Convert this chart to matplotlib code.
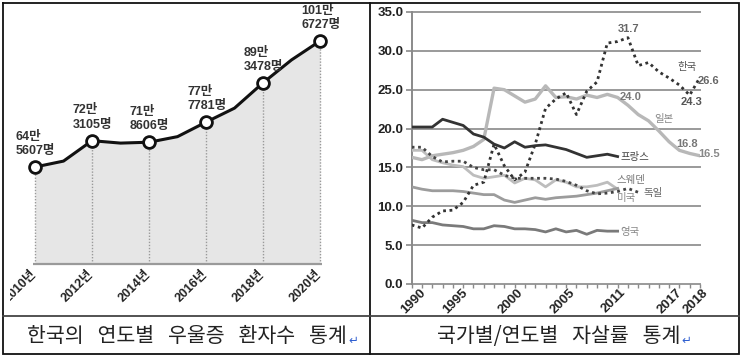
import matplotlib
matplotlib.use('Agg')
import matplotlib.pyplot as plt
from matplotlib.transforms import ScaledTranslation

W, H, DPI = 743, 358, 100

# ---------------- left panel data: depression patients in Korea ----------------
dep_years = [2010, 2011, 2012, 2013, 2014, 2015, 2016, 2017, 2018, 2019, 2020]
dep_patients = [645607, 663000, 723105, 716000, 718606, 735000, 777781, 819000, 893478, 961000, 1016727]
dep_marked_years = [2010, 2012, 2014, 2016, 2018, 2020]
dep_tick_labels = ['2010년', '2012년', '2014년', '2016년', '2018년', '2020년']
left_caption = '한국의   연도별   우울증   환자수   통계'

# ---------------- right panel data: suicide rate by country ----------------
sui_years = [1990, 1991, 1992, 1993, 1994, 1995, 1996, 1997, 1998, 1999,
             2000, 2001, 2002, 2003, 2004, 2005, 2006, 2007, 2008, 2009,
             2010, 2011, 2012, 2013, 2014, 2015, 2016, 2017, 2018]
korea = [7.6, 7.2, 8.6, 9.4, 9.5, 10.5, 12.7, 13.1, 18.0, 15.2,
         13.4, 14.4, 18.0, 22.6, 23.8, 24.6, 21.8, 24.8, 26.0, 31.0,
         31.2, 31.7, 28.1, 28.5, 27.3, 26.5, 25.6, 24.3, 26.6]
japan = [16.3, 16.0, 16.5, 16.7, 16.9, 17.2, 17.7, 18.6, 25.2, 25.0,
         24.2, 23.4, 23.8, 25.5, 24.0, 24.1, 23.8, 24.3, 24.0, 24.4,
         24.0, 23.0, 21.8, 21.0, 19.7, 18.3, 17.2, 16.8, 16.5]
france = [20.2, 20.2, 20.2, 21.2, 20.8, 20.4, 19.3, 18.9, 18.0, 17.5,
          18.3, 17.6, 17.8, 17.9, 17.6, 17.3, 16.8, 16.3, 16.5, 16.7, 16.4]
sweden = [17.2, 17.2, 16.0, 15.6, 15.3, 15.1, 14.0, 13.6, 13.8, 14.0,
          13.0, 13.6, 13.4, 12.5, 13.4, 13.1, 12.5, 12.5, 12.7, 13.1, 12.2]
usa = [12.5, 12.2, 12.0, 12.0, 12.0, 11.9, 11.7, 11.5, 11.5, 10.8,
       10.5, 10.8, 11.1, 10.9, 11.1, 11.2, 11.3, 11.5, 11.7, 12.0, 12.3]
germany = [17.6, 17.6, 16.4, 15.7, 15.8, 15.8, 15.0, 14.7, 14.7, 14.0,
           13.6, 13.6, 13.6, 13.6, 13.5, 13.2, 12.7, 12.0, 11.6, 11.7,
           11.9, 12.3, 11.8]
uk = [8.2, 7.9, 7.9, 7.6, 7.5, 7.4, 7.1, 7.1, 7.5, 7.4,
      7.1, 7.1, 7.0, 6.7, 7.1, 6.7, 6.9, 6.4, 6.9, 6.8, 6.8]
sui_tick_years = [1990, 1995, 2000, 2005, 2011, 2017, 2018]
sui_yticks = [0, 5, 10, 15, 20, 25, 30, 35]
right_caption = '국가별/연도별   자살률   통계'

# horizontal nudges (px) of the rotated year labels, as placed in the original
sui_tick_dx = [12, 3, 7, 7, -4, -9, 6]

NUM_FONT = ['Liberation Sans', 'Noto Sans CJK KR', 'DejaVu Sans']
KR_FONT = ['Noto Sans CJK KR', 'DejaVu Sans']

fig = plt.figure(figsize=(W / DPI, H / DPI), dpi=DPI)
fig.patch.set_facecolor('white')


def px_axes(x0, y0, x1, y1, **kw):
    return fig.add_axes([x0 / W, 1 - y1 / H, (x1 - x0) / W, (y1 - y0) / H], **kw)


def off(dx, dy):
    return ScaledTranslation(dx / DPI, -dy / DPI, fig.dpi_scale_trans)


# ================= left panel =================
ax1 = px_axes(10, 3, 369, 315)
ax1.axis('off')
ax1.set_xlim(2009.123, 2021.719)
ax1.set_ylim(209672, 1128656)
BASE = 360000
ax1.fill_between(dep_years, dep_patients, BASE, color='#e6e6e6', lw=0, zorder=1)
ax1.plot([2009.93, 2020.07], [BASE, BASE], color='#9a9a9a', lw=1.6, zorder=2,
         solid_capstyle='butt')
marked_vals = [dep_patients[dep_years.index(y)] for y in dep_marked_years]
ax1.vlines(dep_marked_years, BASE, marked_vals, colors='#9a9a9a',
           linestyles=(0, (1, 1.2)), lw=1.0, zorder=2)
ax1.plot(dep_years, dep_patients, color='#111111', lw=2.2, zorder=3)
ax1.plot(dep_marked_years, marked_vals, 'o', ms=8.5, mfc='white', mec='#111111',
         mew=2.0, zorder=4)
for yr, v in zip(dep_marked_years, marked_vals):
    ax1.annotate(f'{v // 10000}만\n{v % 10000}명', (yr, v), xytext=(-19, 10),
                 textcoords='offset pixels', ha='left', va='bottom',
                 fontsize=9, fontweight='bold', color='#333333',
                 family=NUM_FONT, linespacing=1.25, zorder=5)
for yr, lab in zip(dep_marked_years, dep_tick_labels):
    ax1.text(yr, BASE, lab, transform=ax1.transData + off(0, 8),
             rotation=45, rotation_mode='anchor', ha='right', va='center',
             fontsize=9, fontweight='bold', color='#222222', family=NUM_FONT,
             clip_on=True)

# ================= right panel =================
ax2 = px_axes(411.7, 12, 700, 284)
ax2.set_facecolor('none')
ax2.set_xlim(1990, 2018)
ax2.set_ylim(0, 35)
for s in ['top', 'right', 'bottom']:
    ax2.spines[s].set_visible(False)
ax2.spines['left'].set_color('#8a8a8a')
ax2.spines['left'].set_linewidth(1.4)
for yv in sui_yticks:
    ax2.axhline(yv, color='#9a9a9a', lw=1.4, clip_on=False, zorder=1)
ax2.set_yticks(sui_yticks)
ax2.set_yticklabels([f'{v:.1f}' for v in sui_yticks])
ax2.tick_params(axis='y', length=4, width=1.2, color='#8a8a8a', pad=2,
                labelsize=9.5, labelcolor='#222222')
for t in ax2.get_yticklabels():
    t.set_fontweight('bold')
    t.set_family(NUM_FONT)
ax2.set_xticks(sui_years)
ax2.set_xticklabels([''] * len(sui_years))
ax2.tick_params(axis='x', length=3, width=1.0, color='#8a8a8a')
for yr, dx in zip(sui_tick_years, sui_tick_dx):
    ax2.text(yr, 0, str(yr), transform=ax2.transData + off(dx, 7),
             rotation=45, rotation_mode='anchor', ha='right', va='center',
             fontsize=9.5, fontweight='bold', color='#222222', family=NUM_FONT)

dot = (0, (1, 1.3))
ax2.plot(sui_years[:len(japan)], japan, color='#b8b8b8', lw=2.4, zorder=3)
ax2.plot(sui_years[:len(sweden)], sweden, color='#bdbdbd', lw=2.0, zorder=3)
ax2.plot(sui_years[:len(usa)], usa, color='#9c9c9c', lw=2.0, zorder=3)
ax2.plot(sui_years[:len(uk)], uk, color='#7a7a7a', lw=2.0, zorder=3)
ax2.plot(sui_years[:len(france)], france, color='#333333', lw=2.0, zorder=4)
ax2.plot(sui_years[:len(germany)], germany, color='#444444', lw=2.0, ls=dot, zorder=4)
ax2.plot(sui_years[:len(korea)], korea, color='#333333', lw=2.0, ls=dot, zorder=5)


def lab(series, yr, text, dx, dy, ha='center', color='#777777', kr=True, size=None):
    v = series[sui_years.index(yr)]
    ax2.annotate(text, (yr, v), xytext=(dx, dy), textcoords='offset pixels',
                 ha=ha, va='center', color=color,
                 fontsize=size if size else (7.5 if kr else 8),
                 fontweight='normal' if kr else 'bold',
                 family=KR_FONT if kr else NUM_FONT, zorder=6,
                 annotation_clip=False)


lab(korea, 2011, f'{korea[sui_years.index(2011)]:.1f}', 1, 9, kr=False, color='#666666')
lab(korea, 2018, '한국', -13, 10, color='#555555')
lab(korea, 2018, f'{korea[-1]:.1f}', -2, -4, ha='left', kr=False, color='#666666')
lab(korea, 2017, f'{korea[sui_years.index(2017)]:.1f}', 2, -7, kr=False, color='#555555')
lab(japan, 2011, '24.0', 3, 8, kr=False, color='#777777')
lab(japan, 2014, '일본', 5, 12, color='#888888')
lab(japan, 2017, f'{japan[sui_years.index(2017)]:.1f}', -3, 9, kr=False, color='#777777')
lab(japan, 2018, f'{japan[-1]:.1f}', -2, 2, ha='left', kr=False, color='#888888')
lab(france, 2010, '프랑스', 3, 0, ha='left', color='#444444')
lab(sweden, 2010, '스웨덴', -1, 9, ha='left', color='#777777')
lab(usa, 2010, '미국', -1, -10, ha='left', color='#888888')
lab(germany, 2012, '독일', 5, -1, ha='left', color='#666666')
lab(uk, 2010, '영국', 3, -1, ha='left', color='#888888')

# ================= table frame and captions =================
bg = px_axes(0, 0, W, H, zorder=10)
bg.set_facecolor('none')
bg.axis('off')
bg.set_xlim(0, W)
bg.set_ylim(H, 0)
fc = '#111111'
bg.plot([3, 739, 739, 3, 3], [3, 3, 354, 354, 3], color=fc, lw=1.3, solid_joinstyle='miter')
bg.plot([370, 370], [3, 354], color=fc, lw=1.3)
bg.plot([3, 739], [316, 316], color='#444444', lw=1.3)

bg.text(347, 336, left_caption, ha='right', va='center', fontsize=14.8,
        color='#222222', family=KR_FONT)
bg.text(348, 344, '↵', ha='left', va='baseline', fontsize=8.5, color='#2f5fd0',
        family=['DejaVu Sans'])
bg.text(680, 336, right_caption, ha='right', va='center', fontsize=14.8,
        color='#222222', family=KR_FONT)
bg.text(681, 344, '↵', ha='left', va='baseline', fontsize=8.5, color='#2f5fd0',
        family=['DejaVu Sans'])

fig.savefig('out.png', dpi=DPI)
